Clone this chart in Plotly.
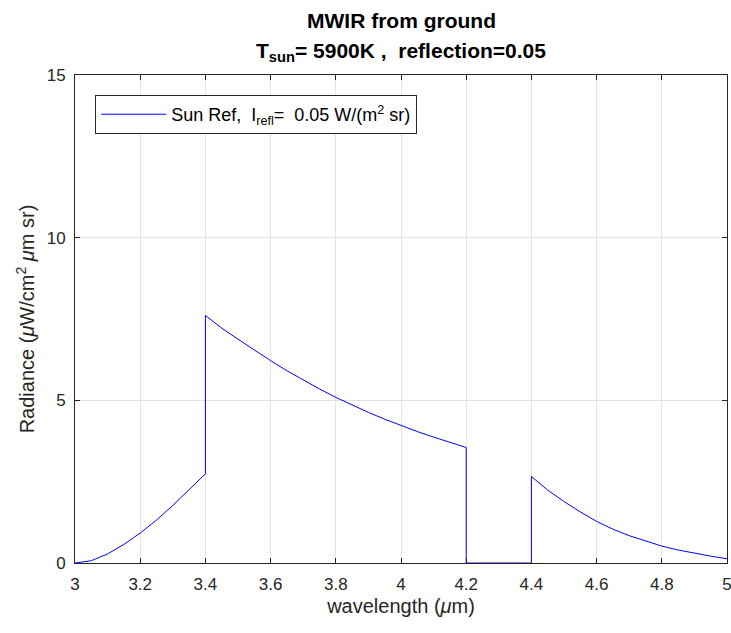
import plotly.graph_objects as go

# Solar reflected radiance in the MWIR band (ground level, T_sun = 5900 K, reflectance 0.05)
wavelength = [3.00, 3.05, 3.10, 3.15, 3.20, 3.25, 3.30, 3.35, 3.40,
              3.40, 3.45, 3.50, 3.55, 3.60, 3.65, 3.70, 3.75, 3.80, 3.85,
              3.90, 3.95, 4.00, 4.05, 4.10, 4.15, 4.20,
              4.20, 4.30, 4.40,
              4.40, 4.45, 4.50, 4.55, 4.60, 4.65, 4.70, 4.75, 4.80, 4.85,
              4.90, 4.95, 5.00]
radiance = [0.00, 0.07, 0.28, 0.57, 0.92, 1.32, 1.77, 2.24, 2.74,
            7.61, 7.22, 6.88, 6.54, 6.22, 5.91, 5.62, 5.35, 5.09, 4.85,
            4.63, 4.42, 4.22, 4.04, 3.87, 3.71, 3.55,
            0.00, 0.00, 0.00,
            2.66, 2.24, 1.89, 1.57, 1.28, 1.04, 0.84, 0.67, 0.52, 0.40,
            0.30, 0.21, 0.13]

x_ticks = [3, 3.2, 3.4, 3.6, 3.8, 4, 4.2, 4.4, 4.6, 4.8, 5]
x_tick_labels = ["3", "3.2", "3.4", "3.6", "3.8", "4", "4.2", "4.4", "4.6", "4.8", "5"]
y_ticks = [0, 5, 10, 15]

title_line1 = "<b>MWIR from ground</b>"
title_line2 = "<b>T<sub>sun</sub>= 5900K ,  reflection=0.05</b>"

FONT = "Liberation Sans, Arial, Helvetica, sans-serif"
AXIS_COLOR = "#262626"
GRID_COLOR = "#e3e3e3"

fig = go.Figure()
fig.add_trace(go.Scatter(
    x=wavelength, y=radiance, mode="lines",
    line=dict(color="#0000ff", width=1),
    name="Sun Ref,  I<sub>refl</sub>=  0.05 W/(m<sup>2</sup> sr)",
    showlegend=True,
))

axis_common = dict(
    showline=True, linecolor=AXIS_COLOR, linewidth=1, mirror="ticks",
    ticks="inside", ticklen=5, tickcolor=AXIS_COLOR,
    showgrid=True, gridcolor=GRID_COLOR, gridwidth=1,
    zeroline=False, ticklabeloverflow="allow", automargin=False,
    tickfont=dict(family=FONT, size=17, color=AXIS_COLOR),
)

# two-line bold title centred over the axes
for text, ypos in [(title_line1, 1.112), (title_line2, 1.048)]:
    fig.add_annotation(
        text=text, xref="paper", yref="paper", x=0.5, y=ypos,
        xanchor="center", yanchor="middle", showarrow=False,
        font=dict(family=FONT, size=21, color="black"),
    )

fig.update_layout(
    width=731, height=633,
    margin=dict(l=75, r=4, t=75, b=70),
    paper_bgcolor="white", plot_bgcolor="white",
    font=dict(family=FONT, color=AXIS_COLOR),
    xaxis=dict(
        range=[3, 5], tickvals=x_ticks, ticktext=x_tick_labels,
        ticklabelstandoff=6,
        title=dict(text="wavelength (<i>μ</i>m)", font=dict(family=FONT, size=20, color=AXIS_COLOR), standoff=5),
        **axis_common,
    ),
    yaxis=dict(
        range=[0, 15], tickvals=y_ticks,
        ticklabelstandoff=5,
        title=dict(text="Radiance (<i>μ</i>W/cm<sup>2</sup> <i>μ</i>m sr)", font=dict(family=FONT, size=20, color=AXIS_COLOR), standoff=6),
        **axis_common,
    ),
    legend=dict(
        x=0.031, y=0.959, xanchor="left", yanchor="top",
        bgcolor="white", bordercolor=AXIS_COLOR, borderwidth=1,
        font=dict(family=FONT, size=18, color="black"),
        itemwidth=65,
    ),
)

fig.write_html("out.html")
